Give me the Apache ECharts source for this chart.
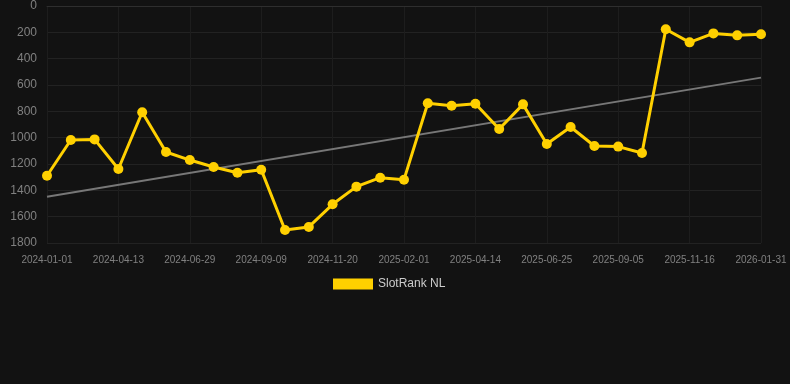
<!DOCTYPE html>
<html><head><meta charset="utf-8">
<script src="https://cdn.jsdelivr.net/npm/echarts@6/dist/echarts.min.js"></script>
<style>html,body{margin:0;padding:0;background:#121212;}#c{width:790px;height:384px;}</style>
</head><body><div id="c"></div>
<script>
var categories = ['2024-01-01','2024-02-04','2024-03-09','2024-04-13','2024-05-09','2024-06-03','2024-06-29','2024-07-23','2024-08-16','2024-09-09','2024-10-03','2024-10-27','2024-11-20','2024-12-14','2025-01-07','2025-02-01','2025-02-25','2025-03-21','2025-04-14','2025-05-08','2025-06-01','2025-06-25','2025-07-19','2025-08-12','2025-09-05','2025-09-29','2025-10-23','2025-11-16','2025-12-10','2026-01-05','2026-01-31'];
var rankValues = [1289,1018,1013,1238,807,1109,1170,1223,1266,1243,1701,1678,1506,1372,1304,1319,739,757,742,934,747,1048,919,1063,1068,1116,177,276,208,223,215];
var trendStart = 1448;
var trendEnd = 544;
var seriesName = 'SlotRank NL';

var chart = echarts.init(document.getElementById('c'));
chart.setOption({
  backgroundColor: '#121212',
  animation: false,
  grid: {left: 47, right: 29, top: 6, bottom: 141},
  legend: {
    data: [seriesName], top: 273, left: 328, icon: 'rect', itemWidth: 40, itemHeight: 11, itemGap: 10,
    textStyle: {color: '#cccccc', fontSize: 12, fontFamily: 'Liberation Sans, Arial, sans-serif'}
  },
  xAxis: {
    type: 'category', data: categories, boundaryGap: false,
    axisLine: {lineStyle: {color: '#2e2e2e'}},
    axisTick: {show: false},
    axisLabel: {interval: 2, color: '#808080', fontSize: 10, fontFamily: 'Liberation Sans, Arial, sans-serif', margin: 12},
    splitLine: {show: true, interval: 2, lineStyle: {color: '#1d1d1d'}}
  },
  yAxis: {
    type: 'value', inverse: true, min: 0, max: 1800, interval: 200,
    axisLine: {show: false}, axisTick: {show: false},
    axisLabel: {color: '#808080', fontSize: 12, fontFamily: 'Liberation Sans, Arial, sans-serif', margin: 10, formatter: function(v){ return String(v); }},
    splitLine: {lineStyle: {color: '#222222'}}
  },
  series: [
    {
      name: 'trend', type: 'line', silent: true, symbol: 'none',
      data: categories.map(function(c, i){ return i === 0 ? trendStart : (i === categories.length - 1 ? trendEnd : null); }),
      connectNulls: true,
      lineStyle: {color: '#777777', width: 2}, z: 1
    },
    {
      name: seriesName, type: 'line', data: rankValues,
      symbol: 'circle', symbolSize: 10,
      itemStyle: {color: '#FFD000'},
      lineStyle: {color: '#FFD000', width: 3}, z: 3
    }
  ]
});
</script></body></html>
